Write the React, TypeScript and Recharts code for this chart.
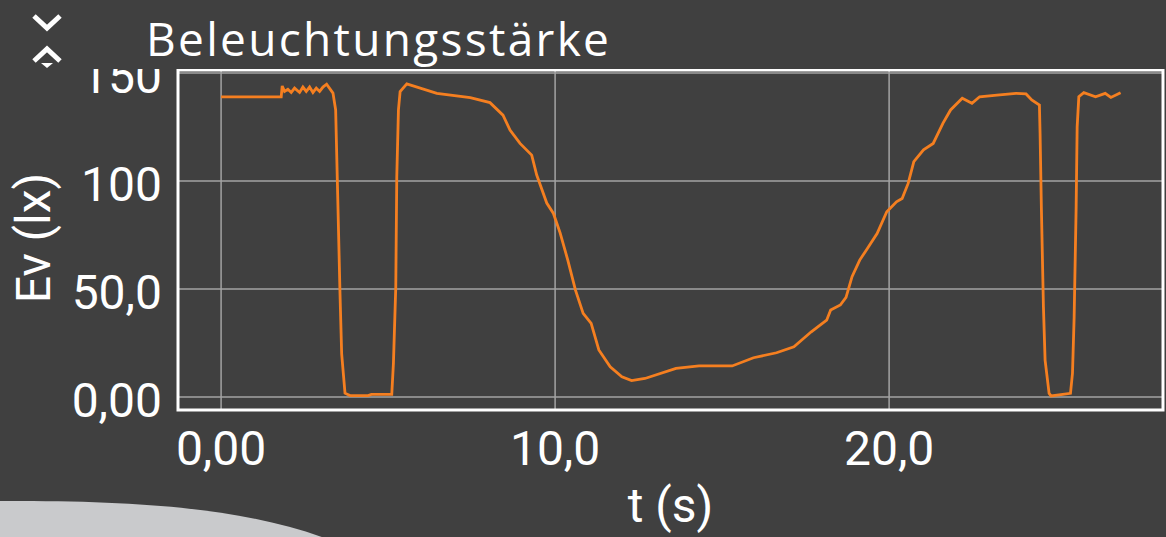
import React from 'react';
import { LineChart, Line, XAxis, YAxis, CartesianGrid, ReferenceArea } from 'recharts';

const BG = '#404040';
const ORANGE = '#f57f20';

// Beleuchtungsstärke over time (t in s, Ev in lx)
const times = [
  0, 1.8, 1.83, 1.9, 2.0, 2.1, 2.2, 2.35, 2.45, 2.55, 2.65, 2.75, 2.85, 2.95, 3.05, 3.16, 3.35,
  3.43, 3.49, 3.56, 3.61, 3.71, 3.86, 4.4, 4.5, 5.11, 5.16, 5.23, 5.26, 5.31, 5.36, 5.56,
  6.46, 7.46, 8.05, 8.44, 8.65, 8.95, 9.3, 9.45, 9.75, 9.95, 10.15, 10.38, 10.61, 10.84, 11.08,
  11.31, 11.65, 12.0, 12.29, 12.69, 13.62, 14.31, 15.3, 15.94, 16.63, 17.15, 17.67, 18.13,
  18.25, 18.54, 18.71, 18.89, 19.12, 19.35, 19.64, 19.93, 20.22, 20.39, 20.57, 20.74, 21.03,
  21.32, 21.61, 21.84, 22.19, 22.48, 22.71, 23.23, 23.8, 24.1, 24.27, 24.5, 24.52, 24.56,
  24.62, 24.67, 24.79, 24.85, 25.43, 25.49, 25.54, 25.6, 25.63, 25.68, 25.83, 26.18, 26.47,
  26.64, 26.93,
];
const illuminance = [
  139, 139, 144, 141.5, 142.5, 141, 143, 141, 143.5, 141.5, 143.5, 141, 143, 141.5, 143.5, 144.8, 140.7,
  132.9, 94, 48, 20, 1.8, 0.7, 0.7, 1.2, 1.2, 15.7, 51, 102, 133, 141.4, 145,
  140.6, 138.6, 136.3, 130.5, 123.6, 117.4, 112, 102.8, 89.8, 85, 76, 63.4, 49.5, 38.7, 34.1,
  21.8, 14, 9.4, 7.6, 8.6, 13.3, 14.4, 14.4, 18.2, 20.5, 23.3, 30.2, 35.6,
  40.3, 42.6, 46.1, 55.7, 63.4, 68.8, 75.7, 85.8, 90.4, 91.9, 98.9, 109, 114.4,
  117.4, 126.7, 132.9, 138.3, 136, 139, 139.8, 140.6, 140.3, 137.5, 135.2, 122, 86.6,
  41.8, 17.1, 1.7, 0.5, 1.7, 11, 37.1, 88.1, 125.1, 139, 140.9, 139, 140.6,
  138.7, 140.9,
];

const xTicks = [0, 10, 20];
const xTickLabels = ['0,00', '10,0', '20,0'];
const yTicks = [0, 50, 100, 150];
const yTickLabels = ['0,00', '50,0', '100', '150'];

const X_DOMAIN: [number, number] = [-1.29, 28.2];
const Y_DOMAIN: [number, number] = [-6, 151.4];

const data = times.map((t, i) => ({ t, ev: illuminance[i] }));

const textFont = { fontFamily: 'Roboto, sans-serif', fontSize: 48, fill: '#ffffff' };

const YTick = (props: any) => {
  const { x, y, payload } = props;
  const i = yTicks.indexOf(payload.value);
  return (
    <text x={x} y={y} dy={20} textAnchor="end" {...textFont}>
      {yTickLabels[i]}
    </text>
  );
};

const XTick = (props: any) => {
  const { x, y, payload } = props;
  const i = xTicks.indexOf(payload.value);
  return (
    <text x={x} y={y} dy={53} textAnchor="middle" {...textFont}>
      {xTickLabels[i]}
    </text>
  );
};

const XLabel = (props: any) => {
  const vb = props.viewBox;
  return (
    <text x={vb.x + vb.width / 2} y={522} textAnchor="middle" {...textFont}>
      t (s)
    </text>
  );
};

const YLabel = (props: any) => {
  const vb = props.viewBox;
  const cy = vb.y + vb.height / 2 - 2;
  return (
    <text transform={`translate(50, ${cy}) rotate(-90)`} textAnchor="middle" {...textFont}>
      Ev (lx)
    </text>
  );
};

const App: React.FC = () => {
  return (
    <div style={{ position: 'fixed', left: 0, top: 0, width: 1166, height: 537, background: BG, overflow: 'hidden' }}>
      <LineChart width={1166} height={537} data={data} margin={{ top: 70, right: 3, bottom: 0, left: 0 }}>
        <CartesianGrid stroke="#a3a3a3" strokeWidth={1.5} />
        <XAxis
          dataKey="t"
          type="number"
          domain={X_DOMAIN}
          ticks={xTicks}
          allowDataOverflow
          height={127}
          axisLine={false}
          tickLine={false}
          tickSize={0}
          tick={<XTick />}
          label={<XLabel />}
        />
        <YAxis
          type="number"
          domain={Y_DOMAIN}
          ticks={yTicks}
          allowDataOverflow
          width={178}
          axisLine={false}
          tickLine={false}
          tickSize={0}
          tickMargin={16}
          tick={<YTick />}
          label={<YLabel />}
        />
        <Line
          dataKey="ev"
          stroke={ORANGE}
          strokeWidth={2.8}
          dot={false}
          isAnimationActive={false}
          type="linear"
        />
        <ReferenceArea
          x1={X_DOMAIN[0]}
          x2={X_DOMAIN[1]}
          y1={Y_DOMAIN[0]}
          y2={Y_DOMAIN[1]}
          fill="none"
          stroke="#ffffff"
          strokeWidth={3}
          ifOverflow="visible"
        />
      </LineChart>

      {/* header strip covers the top of the clipped 150 label */}
      <div style={{ position: 'absolute', left: 0, top: 0, width: 1166, height: 69, background: BG }}>
        <svg width={80} height={69} style={{ position: 'absolute', left: 0, top: 0 }}>
          <polyline points="34,16 47,28 60,16" fill="none" stroke="#fff" strokeWidth={5} />
          <polyline points="34,61 47,49 60,61" fill="none" stroke="#fff" strokeWidth={5} />
          <path d="M41,63 L53,63 L47,68 Z" fill="#fff" />
        </svg>
        <div
          style={{
            position: 'absolute',
            left: 146,
            top: 9,
            fontFamily: '"Open Sans", sans-serif',
            fontSize: 46,
            letterSpacing: 2.3,
            color: '#fff',
            lineHeight: '58px',
            whiteSpace: 'nowrap',
          }}
        >
          Beleuchtungsstärke
        </div>
      </div>

      <svg width={400} height={60} style={{ position: 'absolute', left: 0, top: 477 }}>
        <path d="M0,24 C150,23 250,33 330,63 L0,63 Z" fill="#c9cacc" />
      </svg>
    </div>
  );
};

export default App;
